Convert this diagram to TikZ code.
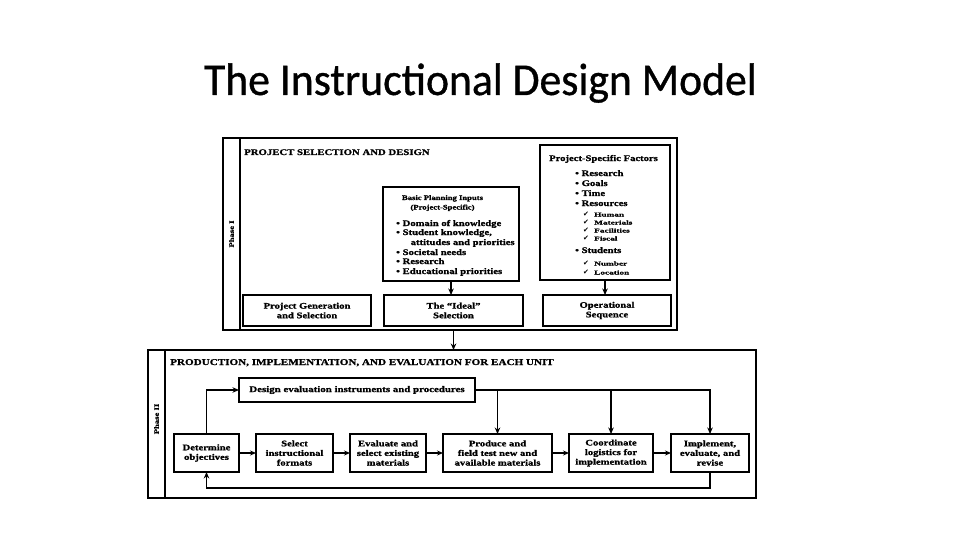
\documentclass[tikz,border=0pt]{standalone}
\usepackage{fontspec}
\setmainfont{Liberation Serif}
\newfontfamily\dfont[FakeStretch=1.25,FakeBold=1.2]{Liberation Serif}
\newfontfamily\subfont[FakeStretch=1.6,FakeBold=1]{Liberation Serif}
\newfontfamily\symfont{DejaVu Sans}
\newfontfamily\titlefont[FakeStretch=0.96,FakeBold=0.8]{Carlito}
\newcommand{\mybul}{\makebox[6.5pt][l]{\textbullet}}
\newcommand{\mychk}{\makebox[11pt][l]{{\symfont\fontsize{7}{7}\selectfont ✔}}}
\usetikzlibrary{arrows.meta}
\begin{document}
\begin{tikzpicture}[x=1pt,y=-1pt,
  box/.style={draw,line width=1.1pt,inner sep=1pt,outer sep=0pt,align=center,
    font=\dfont\bfseries\fontsize{8.5}{9.6}\selectfont},
  rowbox/.style={box,minimum height=38},
  frame/.style={draw,line width=1.4pt,outer sep=0pt},
  hdr/.style={anchor=base west,inner sep=0pt,font=\dfont\bfseries\fontsize{8.6}{9}\selectfont},
  txt/.style={inner sep=0pt,font=\dfont\bfseries\fontsize{8.5}{9.5}\selectfont},
  item/.style={txt,anchor=base west},
  sub/.style={inner sep=0pt,anchor=base west,font=\subfont\bfseries\fontsize{5.8}{7}\selectfont},
  smallhead/.style={inner sep=0pt,anchor=base,font=\dfont\bfseries\fontsize{6.9}{8}\selectfont},
  phaselbl/.style={rotate=90,inner sep=0pt,font=\dfont\bfseries\fontsize{6.9}{8}\selectfont},
  arr/.style={line width=1.1pt,-{Stealth[length=6.5pt,width=5.5pt]}},
  sarr/.style={line width=1.1pt,-{Stealth[length=6pt,width=5pt]}},
]
\useasboundingbox (0,0) rectangle (960,540);
\fill[white] (0,0) rectangle (960,540);

% title
\node[font=\titlefont\fontsize{45.5}{50}\selectfont, anchor=base, inner sep=0pt] (title) at (480.5,95) {The Instructional Design Model};

% ---------- Phase I ----------
\node[frame, minimum width=454, minimum height=192] (p1) at (450,234) {};
\draw[line width=1.4pt] ([xshift=17pt]p1.north west) -- ([xshift=17pt]p1.south west);
\node[phaselbl] (p1lbl) at (231.5,234) {Phase I};
\node[hdr] (h1) at (244,155) {PROJECT SELECTION AND DESIGN};

% Basic planning inputs
\node[box, minimum width=136, minimum height=94] (bpi) at (451,234) {};
\node[smallhead] (bpih1) at (442.5,200) {Basic Planning Inputs};
\node[smallhead] (bpih2) at (442.5,209.5) {(Project-Specific)};
\node[item] (bpi1) at (396,226) {\mybul Domain of knowledge};
\node[item] (bpi2) at (396,235) {\mybul Student knowledge,};
\node[item] (bpi3) at (410.5,245) {attitudes and priorities};
\node[item] (bpi4) at (396,255) {\mybul Societal needs};
\node[item] (bpi5) at (396,264) {\mybul Research};
\node[item] (bpi6) at (396,274) {\mybul Educational priorities};

% Project-specific factors
\node[box, minimum width=130, minimum height=135] (psf) at (605,212.5) {};
\node[txt, anchor=base] (psfh) at (603.5,161) {Project-Specific Factors};
\node[item] (psf1) at (575,176) {\mybul Research};
\node[item] (psf2) at (575,186) {\mybul Goals};
\node[item] (psf3) at (575,196) {\mybul Time};
\node[item] (psf4) at (575,206) {\mybul Resources};
\node[sub] (psf4a) at (583,216.5) {\mychk Human};
\node[sub] (psf4b) at (583,224.5) {\mychk Materials};
\node[sub] (psf4c) at (583,232.5) {\mychk Facilities};
\node[sub] (psf4d) at (583,240.5) {\mychk Fiscal};
\node[item] (psf5) at (575,253) {\mybul Students};
\node[sub] (psf5a) at (583,265.5) {\mychk Number};
\node[sub] (psf5b) at (583,274.5) {\mychk Location};

\node[box, minimum width=128, minimum height=31] (pgs) at (307,310.5) {Project Generation\\and Selection};
\node[box, minimum width=139, minimum height=31] (ideal) at (453.5,310.5) {The \textquotedblleft Ideal\textquotedblright\\Selection};
\node[box, minimum width=128, minimum height=31] (ops) at (607,310.5) {Operational\\Sequence};

\draw[arr] (bpi.south) -- (bpi.south |- ideal.north);
\draw[arr] (psf.south) -- (psf.south |- ops.north);

% ---------- Phase II ----------
\node[frame, minimum width=608, minimum height=148] (p2) at (452,424) {};
\draw[line width=1.4pt] ([xshift=17pt]p2.north west) -- ([xshift=17pt]p2.south west);
\node[phaselbl] (p2lbl) at (156.5,419) {Phase II};
\node[hdr, font=\dfont\bfseries\fontsize{8.9}{9}\selectfont] (h2) at (170,365) {PRODUCTION, IMPLEMENTATION, AND EVALUATION FOR EACH UNIT};

\draw[arr] (ideal.south |- p1.south) -- (ideal.south |- p2.north);

\node[box, minimum width=236, minimum height=24, font=\dfont\bfseries\fontsize{8.7}{9.6}\selectfont] (dei) at (357,390) {Design evaluation instruments and procedures};

\node[rowbox, minimum width=65] (det) at (206.5,453) {Determine\\objectives};
\node[rowbox, minimum width=77] (sif) at (294.5,453) {Select\\instructional\\formats};
\node[rowbox, minimum width=76] (ese) at (388,453) {Evaluate and\\select existing\\materials};
\node[rowbox, minimum width=109] (pft) at (497.5,453) {Produce and\\field test new and\\available materials};
\node[rowbox, minimum width=84] (cli) at (611,453) {Coordinate\\logistics for\\implementation};
\node[rowbox, minimum width=78] (ier) at (710,453) {Implement,\\evaluate, and\\revise};

\draw[sarr] (det) -- (sif);
\draw[sarr] (sif) -- (ese);
\draw[sarr] (ese) -- (pft);
\draw[sarr] (pft) -- (cli);
\draw[sarr] (cli) -- (ier);

\draw[arr] (det.north) |- (dei.west);
\draw[arr] (dei.east) -| (ier.north);
\draw[arr] (pft.north |- dei.east) -- (pft.north);
\draw[arr] (cli.north |- dei.east) -- (cli.north);

\path (ier.south) ++(0,16) coordinate (fb);
\draw[arr] (ier.south) -- (fb) -| (det.south);
\end{tikzpicture}
\end{document}
